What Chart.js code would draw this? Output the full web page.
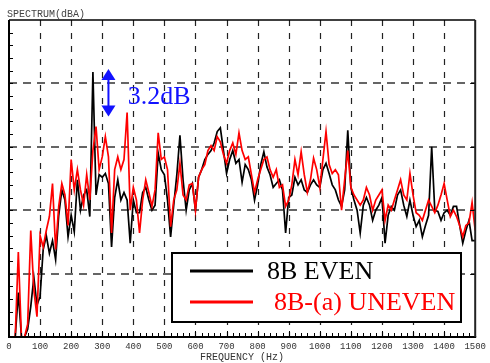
<!DOCTYPE html>
<html>
<head>
<meta charset="utf-8">
<script src="https://cdn.jsdelivr.net/npm/chart.js@4.4.0/dist/chart.umd.min.js"></script>
<style>
  html, body { margin: 0; padding: 0; background: #fff; }
  #wrap { width: 490px; height: 363px; }
</style>
</head>
<body>
<div id="wrap"><canvas id="spectrum"></canvas></div>
<script>
// frequency bins (Hz)
const freqHz = [
  20, 30, 40, 50, 60, 70, 80, 90, 100, 110,
  120, 130, 140, 150, 160, 170, 180, 190, 200, 210,
  220, 230, 240, 250, 260, 270, 280, 290, 300, 310,
  320, 330, 340, 350, 360, 370, 380, 390, 400, 410,
  420, 430, 440, 450, 460, 470, 480, 490, 500, 510,
  520, 530, 540, 550, 560, 570, 580, 590, 600, 610,
  620, 630, 640, 650, 660, 670, 680, 690, 700, 710,
  720, 730, 740, 750, 760, 770, 780, 790, 800, 810,
  820, 830, 840, 850, 860, 870, 880, 890, 900, 910,
  920, 930, 940, 950, 960, 970, 980, 990, 1000, 1010,
  1020, 1030, 1040, 1050, 1060, 1070, 1080, 1090, 1100, 1110,
  1120, 1130, 1140, 1150, 1160, 1170, 1180, 1190, 1200, 1210,
  1220, 1230, 1240, 1250, 1260, 1270, 1280, 1290, 1300, 1310,
  1320, 1330, 1340, 1350, 1360, 1370, 1380, 1390, 1400, 1410,
  1420, 1430, 1440, 1450, 1460, 1470, 1480, 1490, 1500
];

// 8B EVEN spectrum (dBA)
const evenDb = [
  30.0, 33.5, 30.0, 30.0, 30.6, 32.4, 34.7, 32.5, 33.2, 36.9,
  38.0, 36.6, 37.6, 36.1, 39.6, 41.6, 40.8, 37.9, 39.6, 38.3,
  42.4, 40.0, 41.2, 41.6, 39.5, 50.9, 41.2, 42.8, 42.6, 42.9,
  42.1, 37.1, 41.0, 42.4, 40.8, 41.4, 40.8, 37.4, 40.8, 39.8,
  39.8, 41.4, 41.8, 40.8, 40.0, 40.4, 44.5, 43.2, 42.8, 40.8,
  37.9, 40.4, 42.8, 45.9, 42.4, 40.0, 41.6, 42.1, 40.0, 42.6,
  43.2, 44.0, 44.4, 44.7, 45.3, 46.2, 46.5, 44.7, 42.9, 44.0,
  44.7, 43.7, 44.0, 42.2, 43.6, 43.2, 42.4, 40.8, 42.0, 43.6,
  44.6, 43.4, 42.8, 41.8, 42.1, 42.4, 41.6, 38.2, 41.0, 41.2,
  42.6, 42.0, 42.4, 41.6, 41.4, 42.0, 42.4, 42.0, 41.8, 43.2,
  43.7, 42.9, 42.0, 41.6, 40.8, 40.3, 41.6, 46.3, 41.8, 40.8,
  40.0, 38.2, 40.4, 41.0, 40.4, 39.2, 40.0, 40.4, 41.0, 37.4,
  39.6, 40.3, 40.0, 41.2, 41.6, 40.4, 39.5, 40.8, 39.6, 38.7,
  39.2, 37.9, 38.8, 39.6, 45.0, 40.0, 39.9, 39.2, 39.8, 40.0,
  39.6, 40.3, 40.3, 38.8, 37.4, 38.4, 39.2, 37.6, 37.6
];

// 8B-(a) UNEVEN spectrum (dBA)
const unevenDb = [
  30.0, 36.7, 30.0, 30.0, 31.0, 38.4, 33.7, 31.6, 38.0, 37.1,
  38.4, 39.5, 42.1, 36.9, 40.3, 42.1, 41.2, 38.8, 44.0, 41.6,
  43.2, 41.6, 40.4, 42.8, 40.8, 44.7, 46.6, 43.2, 44.2, 45.8,
  44.2, 38.2, 43.2, 44.2, 43.2, 44.0, 47.7, 40.0, 41.8, 40.8,
  38.2, 40.8, 42.4, 41.4, 40.3, 41.6, 46.1, 44.0, 44.2, 43.2,
  38.7, 40.8, 41.6, 43.7, 41.2, 40.8, 42.0, 42.1, 40.0, 42.6,
  43.2, 43.6, 44.7, 45.1, 44.7, 45.8, 45.4, 44.4, 43.7, 44.7,
  45.3, 44.4, 46.1, 44.7, 44.0, 44.2, 42.8, 41.4, 42.4, 43.2,
  44.0, 44.2, 43.2, 42.6, 43.2, 41.8, 42.0, 40.3, 40.8, 42.0,
  44.0, 42.8, 44.6, 42.8, 41.4, 42.4, 44.1, 43.2, 41.8, 44.0,
  46.2, 43.6, 42.9, 43.2, 42.8, 40.0, 42.4, 44.7, 41.8, 41.2,
  40.8, 40.4, 40.8, 41.8, 41.2, 40.0, 40.8, 41.2, 41.6, 39.2,
  40.4, 40.0, 40.8, 41.6, 42.4, 41.2, 40.8, 42.9, 41.2, 39.8,
  39.6, 39.2, 40.0, 40.8, 40.3, 39.8, 40.4, 41.2, 42.1, 40.8,
  39.5, 40.0, 39.5, 38.8, 37.9, 38.8, 39.0, 40.6, 38.4
];

const seriesLabels = ["8B EVEN", "8B-(a) UNEVEN"];
const seriesColors = ["#000000", "#ff0000"];
const freqTicks = [0, 100, 200, 300, 400, 500, 600, 700, 800, 900, 1000, 1100, 1200, 1300, 1400, 1500];
const levelTicks = [35, 40, 45, 50];

// where the peak-difference marker sits
const markerFreq = 320;
const markerTextFreq = 382;

const evenPeak = Math.max(...evenDb);
const unevenPeak = Math.max(...unevenDb);

function line(ctx, x1, y1, x2, y2) {
  ctx.beginPath();
  ctx.moveTo(x1, y1);
  ctx.lineTo(x2, y2);
  ctx.stroke();
}

const spectrumFrame = {
  id: "spectrumFrame",
  beforeDatasetsDraw(chart) {
    const { ctx, chartArea: a, scales: { x, y } } = chart;
    ctx.save();
    // dashed grid
    ctx.setLineDash([6, 7]);
    ctx.strokeStyle = "#222";
    ctx.lineWidth = 1.2;
    freqTicks.slice(1, -1).forEach(f => {
      const px = Math.round(x.getPixelForValue(f)) + 0.5;
      line(ctx, px, a.top, px, a.bottom);
    });
    ctx.setLineDash([8, 6]);
    ctx.strokeStyle = "#333";
    ctx.lineWidth = 1.5;
    levelTicks.forEach(v => {
      const py = Math.round(y.getPixelForValue(v));
      line(ctx, a.left, py, a.right, py);
    });
    ctx.restore();
  },
  afterDatasetsDraw(chart) {
    const { ctx, chartArea: a, scales: { x, y } } = chart;
    ctx.save();
    ctx.strokeStyle = "#000";
    ctx.lineWidth = 1;
    // minor ticks on the left axis, 1 dB apart
    for (let v = y.min + 1; v < y.max; v++) {
      const py = Math.round(y.getPixelForValue(v)) + 0.5;
      line(ctx, a.left, py, a.left + 4, py);
    }
    // right axis ticks
    levelTicks.forEach(v => {
      const py = Math.round(y.getPixelForValue(v)) + 0.5;
      line(ctx, a.right - 5, py, a.right, py);
    });
    // bottom axis ticks, 20 Hz apart
    for (let f = 20; f < x.max; f += 20) {
      const px = Math.round(x.getPixelForValue(f)) + 0.5;
      line(ctx, px, a.bottom, px, a.bottom - (f % 100 === 0 ? 6 : 4));
    }
    // frame
    ctx.lineWidth = 2;
    line(ctx, a.left, a.top, a.left, a.bottom + 1);
    line(ctx, a.left - 1, a.bottom, a.right + 1, a.bottom);
    ctx.lineWidth = 1.5;
    line(ctx, a.left, a.top, a.right, a.top);
    ctx.strokeStyle = "#222";
    ctx.lineWidth = 2;
    line(ctx, a.right, a.top, a.right, a.bottom);
    ctx.restore();
  },
  afterDraw(chart) {
    const { ctx, scales: { x, y } } = chart;
    ctx.save();

    // y axis caption
    ctx.font = '10px "Liberation Mono"';
    ctx.fillStyle = "#444";
    ctx.textBaseline = "middle";
    ctx.textAlign = "left";
    ctx.fillText("SPECTRUM(dBA)", 7, 14);

    // double arrow between the two peaks
    const blue = "#1212ff";
    const mx = x.getPixelForValue(markerFreq);
    const yTop = y.getPixelForValue(evenPeak) - 3;
    const yBot = y.getPixelForValue(unevenPeak) + 4;
    ctx.fillStyle = blue;
    ctx.strokeStyle = blue;
    ctx.lineWidth = 2;
    line(ctx, mx, yTop + 8, mx, yBot - 8);
    ctx.beginPath();
    ctx.moveTo(mx, yTop);
    ctx.lineTo(mx - 7, yTop + 11);
    ctx.lineTo(mx + 7, yTop + 11);
    ctx.closePath();
    ctx.fill();
    ctx.beginPath();
    ctx.moveTo(mx, yBot);
    ctx.lineTo(mx - 7, yBot - 11);
    ctx.lineTo(mx + 7, yBot - 11);
    ctx.closePath();
    ctx.fill();
    ctx.font = '26px "Liberation Serif"';
    ctx.textBaseline = "alphabetic";
    ctx.fillText((evenPeak - unevenPeak).toFixed(1) + "dB", x.getPixelForValue(markerTextFreq), 104);

    // legend box
    const box = { left: 172, top: 253, right: 461, bottom: 322 };
    ctx.fillStyle = "#fff";
    ctx.fillRect(box.left, box.top, box.right - box.left, box.bottom - box.top);
    ctx.strokeStyle = "#000";
    ctx.lineWidth = 2;
    ctx.strokeRect(box.left, box.top, box.right - box.left, box.bottom - box.top);
    const rows = [271, 302];
    const textX = [267, 274];
    chart.data.datasets.forEach((ds, i) => {
      ctx.strokeStyle = ds.borderColor;
      ctx.lineWidth = 3;
      line(ctx, 190, rows[i], 253, rows[i]);
      ctx.fillStyle = ds.borderColor;
      ctx.font = '26px "Liberation Serif"';
      ctx.textBaseline = "alphabetic";
      ctx.fillText(ds.label, textX[i], rows[i] + 8);
    });
    ctx.restore();
  }
};

new Chart(document.getElementById("spectrum"), {
  type: "line",
  data: {
    datasets: [
      {
        label: seriesLabels[0],
        data: freqHz.map((f, i) => ({ x: f, y: evenDb[i] })),
        borderColor: seriesColors[0],
        borderWidth: 1.7,
        order: 1
      },
      {
        label: seriesLabels[1],
        data: freqHz.map((f, i) => ({ x: f, y: unevenDb[i] })),
        borderColor: seriesColors[1],
        borderWidth: 1.7,
        order: 0
      }
    ]
  },
  options: {
    responsive: true,
    maintainAspectRatio: false,
    animation: false,
    layout: { padding: { left: 9, right: 11, top: 20, bottom: 0 } },
    elements: { point: { radius: 0 }, line: { tension: 0 } },
    plugins: { legend: { display: false }, tooltip: { enabled: false } },
    scales: {
      x: {
        type: "linear",
        min: 0,
        max: 1500,
        afterBuildTicks: s => { s.ticks = freqTicks.map(v => ({ value: v })); },
        afterFit: s => { s.height = 26; },
        grid: { display: false, drawTicks: false },
        border: { display: false },
        ticks: {
          color: "#333",
          font: { family: "Liberation Mono", size: 9 },
          padding: 4,
          maxRotation: 0,
          autoSkip: false,
          callback: v => String(v)
        },
        title: {
          display: true,
          text: "FREQUENCY (Hz)",
          color: "#333",
          font: { family: "Liberation Mono", size: 10 },
          padding: { top: 0, bottom: 0 }
        }
      },
      y: {
        min: 30,
        max: 55,
        afterFit: s => { s.width = 0; },
        grid: { display: false },
        border: { display: false },
        ticks: { display: false, stepSize: 5 }
      }
    }
  },
  plugins: [spectrumFrame]
});
</script>
</body>
</html>
